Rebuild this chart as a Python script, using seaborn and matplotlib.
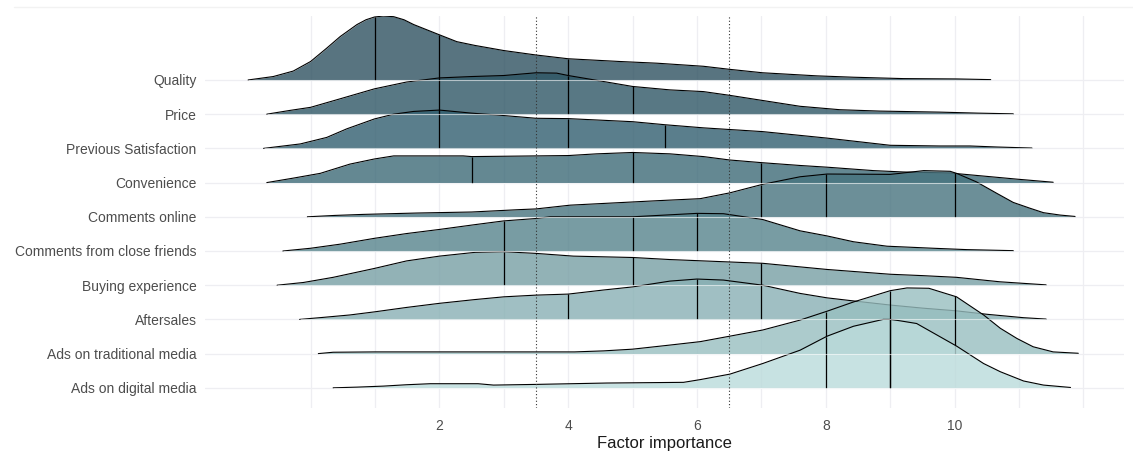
import numpy as np
import pandas as pd
import matplotlib
matplotlib.use("Agg")
import matplotlib.pyplot as plt
import seaborn as sns
from matplotlib.lines import Line2D

# factors, top to bottom
factors = ["Quality", "Price", "Previous Satisfaction", "Convenience", "Comments online",
           "Comments from close friends", "Buying experience", "Aftersales",
           "Ads on traditional media", "Ads on digital media"]

# density outlines (x = importance, h = height in row units)
quality_x = [-0.97, -0.58, -0.27, 0.0, 0.25, 0.46, 0.72, 0.86, 0.99, 1.13, 1.29, 1.45, 1.6, 2.0, 2.27,
             2.55, 3.0, 3.5, 4.0, 4.8, 5.38, 6.1, 6.51, 7.02, 7.86, 8.43, 9.2, 10.03, 10.56]
quality_h = [0.0, 0.1, 0.26, 0.54, 0.93, 1.27, 1.62, 1.76, 1.84, 1.87, 1.85, 1.76, 1.62, 1.32, 1.12,
             1.01, 0.86, 0.73, 0.62, 0.54, 0.49, 0.40, 0.31, 0.21, 0.12, 0.08, 0.04, 0.03, 0.01]
price_x = [-0.68, -0.32, 0.0, 0.46, 0.99, 1.49, 2.0, 2.5, 3.0, 3.5, 3.82, 4.0, 4.44, 5.0, 5.58, 6.1,
           6.51, 7.02, 7.6, 8.22, 8.84, 9.77, 10.37, 10.91]
price_h = [0.0, 0.11, 0.2, 0.45, 0.74, 0.94, 1.06, 1.1, 1.13, 1.21, 1.2, 1.13, 0.99, 0.81, 0.71, 0.66,
           0.55, 0.4, 0.23, 0.13, 0.09, 0.06, 0.03, 0.01]
prevsat_x = [-0.73, -0.16, 0.25, 0.56, 0.99, 1.29, 1.6, 2.0, 2.5, 3.0, 3.5, 4.0, 5.0, 5.51, 6.1, 7.02,
             8.02, 9.0, 9.77, 10.24, 10.66, 11.2]
prevsat_h = [0.0, 0.13, 0.32, 0.57, 0.86, 1.0, 1.08, 1.12, 1.03, 0.96, 0.88, 0.87, 0.78, 0.69, 0.6, 0.49,
             0.3, 0.09, 0.07, 0.07, 0.04, 0.01]
conv_x = [-0.68, -0.27, 0.15, 0.61, 0.99, 1.29, 1.75, 2.37, 2.5, 3.5, 4.0, 4.44, 5.0, 5.58, 6.1, 6.51,
          7.02, 7.6, 8.02, 8.74, 9.2, 9.93, 10.45, 10.97, 11.53]
conv_h = [0.0, 0.13, 0.27, 0.54, 0.69, 0.78, 0.78, 0.78, 0.76, 0.78, 0.79, 0.84, 0.88, 0.84, 0.76, 0.66,
          0.58, 0.5, 0.45, 0.35, 0.31, 0.28, 0.19, 0.1, 0.01]
online_x = [-0.05, 0.38, 0.82, 1.65, 2.5, 3.25, 3.5, 4.03, 4.86, 5.38, 6.05, 6.51, 7.02, 7.6, 8.02, 9.0,
            9.15, 9.52, 9.93, 10.03, 10.34, 10.66, 10.91, 11.17, 11.38, 11.64, 11.87]
online_h = [0.0, 0.04, 0.07, 0.11, 0.14, 0.21, 0.23, 0.34, 0.42, 0.47, 0.53, 0.7, 0.95, 1.17, 1.25, 1.24,
            1.27, 1.35, 1.33, 1.27, 1.02, 0.68, 0.42, 0.25, 0.12, 0.05, 0.01]
friends_x = [-0.43, 0.0, 0.46, 0.99, 1.49, 2.0, 2.55, 3.0, 3.5, 3.72, 5.0, 6.0, 6.41, 7.02, 7.6, 8.02,
             8.43, 8.95, 9.67, 10.19, 10.91]
friends_h = [0.0, 0.08, 0.2, 0.37, 0.51, 0.63, 0.77, 0.88, 0.95, 1.0, 1.0, 1.1, 1.09, 0.92, 0.59, 0.44,
             0.27, 0.14, 0.08, 0.04, 0.01]
buying_x = [-0.52, -0.11, 0.35, 0.99, 1.49, 2.0, 2.55, 3.0, 3.5, 4.08, 5.0, 5.58, 6.1, 7.02, 8.02, 9.0,
            9.5, 10.03, 10.7, 11.42]
buying_h = [0.0, 0.08, 0.23, 0.49, 0.71, 0.85, 0.96, 0.98, 0.93, 0.85, 0.81, 0.75, 0.71, 0.64, 0.46, 0.32,
            0.28, 0.23, 0.1, 0.01]
after_x = [-0.17, 0.2, 0.61, 0.99, 1.49, 2.0, 2.55, 3.0, 3.5, 4.0, 4.55, 5.0, 5.58, 6.0, 6.41, 7.02, 7.6,
           8.02, 8.43, 9.0, 9.5, 10.03, 10.5, 11.07, 11.42]
after_h = [0.0, 0.06, 0.13, 0.22, 0.35, 0.47, 0.58, 0.66, 0.71, 0.74, 0.86, 0.95, 1.12, 1.18, 1.15, 1.0,
           0.76, 0.63, 0.54, 0.42, 0.33, 0.25, 0.15, 0.05, 0.01]
trad_x = [0.12, 0.35, 1.0, 2.0, 3.0, 4.1, 4.55, 5.0, 5.58, 6.05, 6.51, 7.02, 7.6, 8.02, 8.43, 9.0, 9.26,
          9.6, 10.03, 10.45, 10.71, 10.97, 11.22, 11.53, 11.92]
trad_h = [0.0, 0.04, 0.05, 0.05, 0.05, 0.05, 0.08, 0.13, 0.25, 0.35, 0.51, 0.69, 0.98, 1.24, 1.51, 1.84,
          1.92, 1.91, 1.66, 1.13, 0.74, 0.44, 0.2, 0.05, 0.01]
digital_x = [0.35, 0.72, 1.13, 1.49, 1.86, 2.6, 2.84, 3.5, 4.6, 5.79, 6.05, 6.51, 7.02, 7.6, 8.02, 8.43,
             8.89, 9.0, 9.15, 9.41, 10.03, 10.45, 10.71, 11.07, 11.38, 11.8]
digital_h = [0.0, 0.02, 0.05, 0.09, 0.12, 0.12, 0.08, 0.1, 0.14, 0.16, 0.24, 0.4, 0.71, 1.1, 1.51, 1.8,
             2.0, 2.0, 1.96, 1.88, 1.22, 0.71, 0.47, 0.2, 0.08, 0.01]

curves_x = [quality_x, price_x, prevsat_x, conv_x, online_x, friends_x, buying_x, after_x, trad_x, digital_x]
curves_h = [quality_h, price_h, prevsat_h, conv_h, online_h, friends_h, buying_h, after_h, trad_h, digital_h]

# quartiles (25%, 50%, 75%)
quartiles = [[1, 2, 4], [2, 4, 5], [2, 4, 5.5], [2.5, 5, 7], [7, 8, 10],
             [3, 5, 6], [3, 5, 7], [4, 6, 7], [8, 9, 10], [8, 9, 9]]

fills = ["#2e5160", "#2e5665", "#315e6f", "#3d6a77", "#47737e", "#56838c", "#779fa4",
         "#88b0b4", "#98bfc0", "#badbdb"]

ref_lines = [3.5, 6.5]
x_ticks = [2, 4, 6, 8, 10]

rows = []
for name, xs, hs in zip(factors, curves_x, curves_h):
    for xv, hv in zip(xs, hs):
        rows.append({"factor": name, "x": xv, "h": hv})
df = pd.DataFrame(rows)

sns.set_theme(style="white")
plt.rcParams["font.family"] = ["Liberation Sans", "DejaVu Sans"]

fig = plt.figure(figsize=(11.33, 4.57), dpi=100)
ax = fig.add_axes([205 / 1133, 1 - 408 / 457, (1124 - 205) / 1133, (408 - 16) / 457])

n = len(factors)
# grid
for gx in range(0, 13):
    ax.axvline(gx, color="#eeeef2", lw=0.9, zorder=0)
for i in range(n):
    ax.axhline(n - i, color="#eeeef2", lw=0.9, zorder=0)

for i, name in enumerate(factors):
    base = n - i
    sub = df[df["factor"] == name]
    z = 2 + i * 3
    ax.fill_between(sub["x"], base, base + sub["h"], color=fills[i], alpha=0.8, lw=0, zorder=z)
    sns.lineplot(x=sub["x"], y=base + sub["h"], ax=ax, color="black", lw=0.8,
                 estimator=None, sort=False, zorder=z + 1)
    for q in quartiles[i]:
        top = np.interp(q, sub["x"], sub["h"])
        ax.vlines(q, base, base + top, color="black", lw=0.9, zorder=z + 1)

for i, name in enumerate(factors):
    sub = df[df["factor"] == name]
    ax.hlines(n - i, sub["x"].min(), sub["x"].max(), color="white", lw=0.8, alpha=0.6, zorder=40)

for r in ref_lines:
    ax.axvline(r, color="#333333", lw=0.8, ls=(0, (1, 2)), zorder=45)

ax.set_xlim(-1.64, 12.63)
ax.set_ylim(0.41, 11.87)
ax.set_xticks(x_ticks)
ax.set_xticklabels([str(t) for t in x_ticks])
ax.set_yticks([n - i for i in range(n)])
ax.set_yticklabels(factors)
ax.tick_params(axis="both", colors="#4d4d4d", labelsize=10, length=3, width=0.8,
               direction="out", pad=3)
ax.tick_params(axis="x", pad=5)
for s in ax.spines.values():
    s.set_visible(False)
ax.set_ylabel("")
ax.set_xlabel("Factor importance", fontsize=12, color="#1a1a1a", labelpad=2)
ax.grid(False)

fig.add_artist(Line2D([14 / 1133, 1], [1 - 7 / 457, 1 - 7 / 457], color="#f2f2f2", lw=1.0))

fig.savefig("out.png", dpi=100)
